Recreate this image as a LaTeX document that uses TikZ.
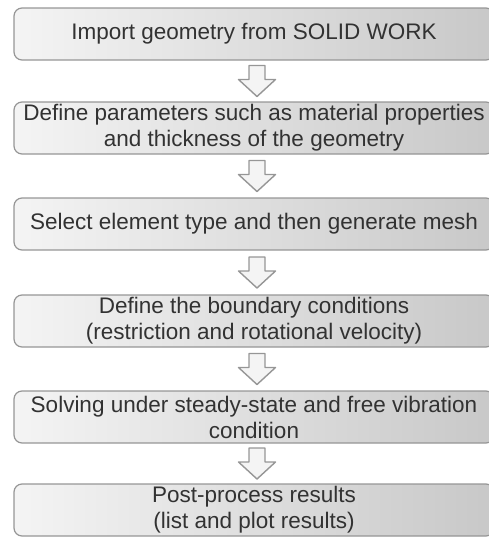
\documentclass[tikz,border=0pt]{standalone}
\usepackage{fontspec}
\setmainfont{Liberation Sans}
\usepackage{tikz}
\usetikzlibrary{calc}
\definecolor{mygray1}{RGB}{244, 244, 244}
\definecolor{mygray2}{RGB}{200, 200, 200}
\definecolor{mygray3}{RGB}{150, 150, 150}
\definecolor{mytext}{RGB}{50, 50, 50}

\begin{document}
\begin{tikzpicture}[
    x = 1pt, y = -1pt,
    bx/.style = {draw = mygray3, line width = 1.2pt, rounded corners = 8pt, left color = mygray1, right color = mygray2,
                 minimum width = 480pt, minimum height = 52pt, align = center, text = mytext, inner sep = 0pt,
                 font = \fontsize{22.5}{26}\selectfont},
    ar/.style = {draw = mygray3, fill = mygray1, line width = 1.4pt, line join = round},
]
\useasboundingbox (0,0) rectangle (488,538);

\node[bx] (b1) at (254, 34)  {Import geometry from SOLID WORK};
\node[bx] (b2) at (254, 128) {Define parameters such as material properties\\and thickness of the geometry};
\node[bx] (b3) at (254, 224) {Select element type and then generate mesh};
\node[bx] (b4) at (254, 321) {Define the boundary conditions\\(restriction and rotational velocity)};
\node[bx] (b5) at (254, 417) {Solving under steady-state and free vibration\\condition};
\node[bx] (b6) at (254, 510) {Post-process results\\(list and plot results)};

% block arrows
\foreach \a/\b in {b1/b2, b2/b3, b3/b4, b4/b5, b5/b6}
    \draw[ar] ($(\a.south)!0.5!(\b.north) + (3,0)$) coordinate (\a\b)
        ++(-8,-15.5) -- ++(16,0) -- ++(0,14) -- ++(10.5,0) -- ++(-18.5,17) -- ++(-18.5,-17) -- ++(10.5,0) -- cycle;
\end{tikzpicture}
\end{document}
